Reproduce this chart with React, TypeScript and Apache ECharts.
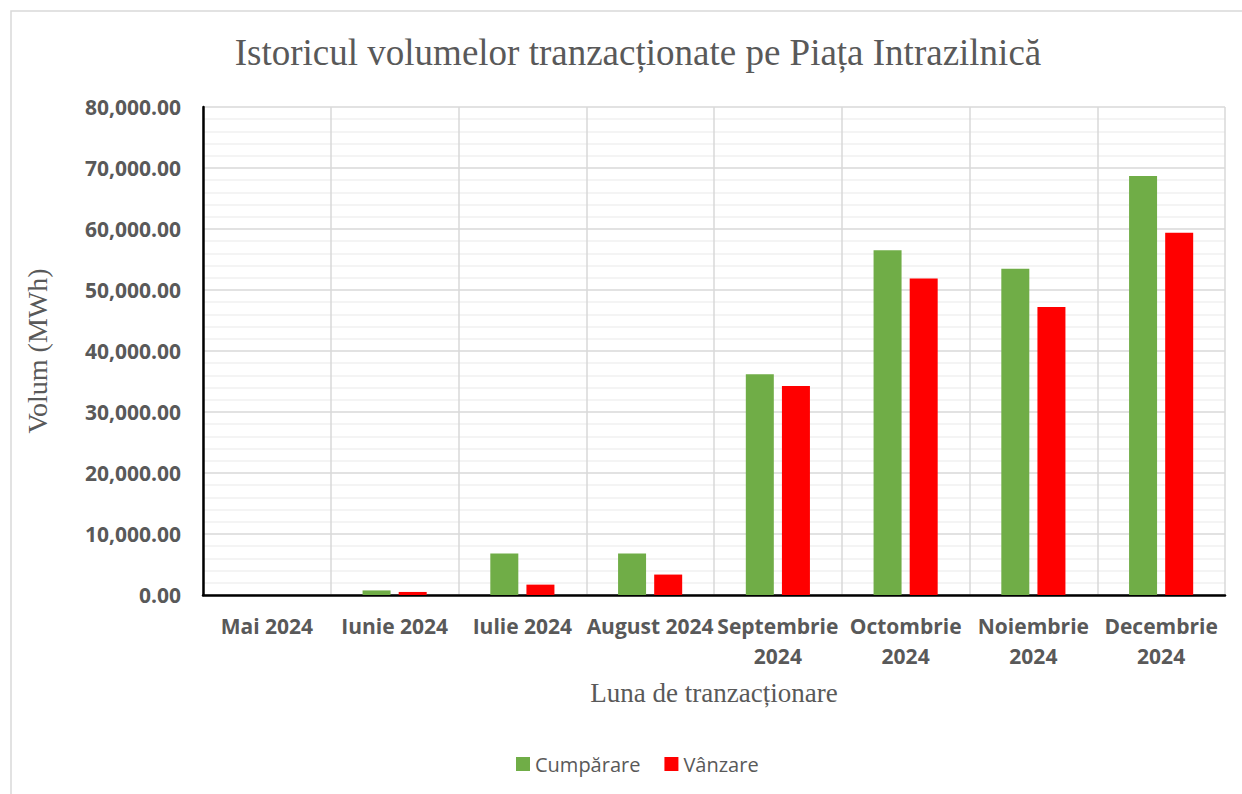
import React, { useEffect, useRef } from "react";
import * as echarts from "echarts";

const categories = [
  "Mai 2024",
  "Iunie 2024",
  "Iulie 2024",
  "August 2024",
  "Septembrie 2024",
  "Octombrie 2024",
  "Noiembrie 2024",
  "Decembrie 2024",
];
const cumparare = [0, 750, 6820, 6800, 36200, 56500, 53500, 68700];
const vanzare = [0, 500, 1700, 3350, 34250, 51900, 47200, 59400];
const yTicks = { min: 0, max: 80000, interval: 10000 };

const fmt = (v: number) =>
  v.toLocaleString("en-US", { minimumFractionDigits: 2, maximumFractionDigits: 2 });

export default function App() {
  const ref = useRef<HTMLDivElement>(null);
  useEffect(() => {
    document.body.style.margin = "0";
    const chart = echarts.init(ref.current!, null, { renderer: "svg" });
    const labelFont = "'Open Sans', 'Noto Sans', sans-serif";
    chart.setOption({
      animation: false,
      backgroundColor: "#ffffff",
      title: {
        text: "Istoricul volumelor tranzacționate pe Piața Intrazilnică",
        left: 633,
        top: 29,
        textAlign: "center",
        textStyle: {
          fontFamily: "'Liberation Serif', serif",
          fontSize: 37,
          fontWeight: "normal",
          color: "#595959",
        },
      },
      graphic: [
        {
          type: "rect",
          shape: { x: 11, y: 11, width: 1260, height: 820 },
          style: { fill: "none", stroke: "#d9d9d9", lineWidth: 1.5 },
          silent: true,
          z: -10,
        },
      ],
      legend: {
        left: 511,
        top: 749,
        itemWidth: 14,
        itemHeight: 14,
        itemGap: 24,
        icon: "rect",
        textStyle: { fontFamily: labelFont, fontSize: 20, color: "#595959" },
        data: ["Cumpărare", "Vânzare"],
      },
      grid: { left: 203, top: 107, width: 1022, height: 488, containLabel: false },
      xAxis: {
        type: "category",
        data: categories,
        name: "Luna de tranzacționare",
        nameLocation: "middle",
        nameGap: 84,
        nameTextStyle: {
          fontFamily: "'Liberation Serif', serif",
          fontSize: 27,
          color: "#595959",
        },
        axisLine: { show: true, lineStyle: { color: "#000000", width: 2.5 } },
        axisTick: { show: false },
        splitLine: { show: true, lineStyle: { color: "#d9d9d9", width: 1.5 } },
        axisLabel: {
          interval: 0,
          margin: 16,
          fontFamily: labelFont,
          fontWeight: "bold",
          fontSize: 21,
          color: "#595959",
          lineHeight: 30,
          formatter: (v: string) => (v.length > 12 ? v.replace(" ", "\n") : v),
        },
      },
      yAxis: {
        type: "value",
        min: yTicks.min,
        max: yTicks.max,
        interval: yTicks.interval,
        name: "Volum (MWh)",
        nameLocation: "middle",
        nameGap: 152,
        nameRotate: 90,
        nameTextStyle: {
          fontFamily: "'Liberation Serif', serif",
          fontSize: 28,
          color: "#595959",
        },
        axisLine: { show: true, lineStyle: { color: "#000000", width: 2.5 } },
        axisTick: { show: false },
        splitLine: { show: true, lineStyle: { color: "#d9d9d9", width: 1.5 } },
        minorTick: { show: false, splitNumber: 5 },
        minorSplitLine: { show: true, lineStyle: { color: "#f0f0f0", width: 1.5 } },
        axisLabel: {
          margin: 22,
          fontFamily: labelFont,
          fontWeight: "bold",
          fontSize: 21,
          color: "#595959",
          formatter: (v: number) => fmt(v),
        },
      },
      series: [
        {
          name: "Cumpărare",
          type: "bar",
          data: cumparare,
          barWidth: 28,
          barGap: "29%",
          itemStyle: { color: "#70ad47" },
        },
        {
          name: "Vânzare",
          type: "bar",
          data: vanzare,
          barWidth: 28,
          barGap: "29%",
          itemStyle: { color: "#ff0000" },
        },
      ],
    });
    return () => chart.dispose();
  }, []);
  return <div ref={ref} style={{ width: 1242, height: 794 }} />;
}
